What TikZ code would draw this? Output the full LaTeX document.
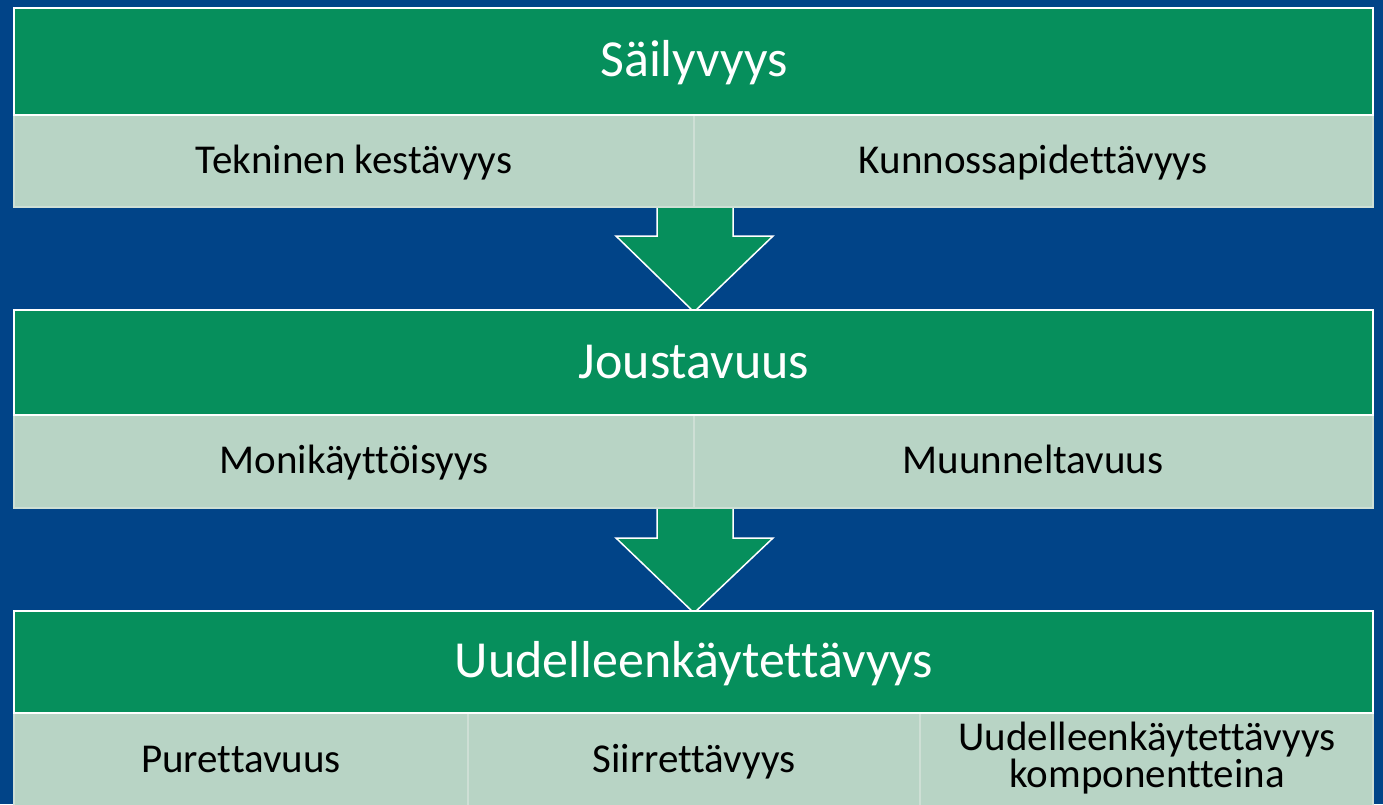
\documentclass[tikz,border=0pt]{standalone}
\usepackage{fontspec}
\setmainfont{Carlito}[Ligatures={NoCommon,NoRare,NoContextual}]
\definecolor{bgblue}{RGB}{1,68,136}
\definecolor{hdrgreen}{RGB}{6,143,92}
\definecolor{sublight}{RGB}{184,212,197}
\definecolor{subline}{RGB}{206,223,213}
\begin{document}
\begin{tikzpicture}[x=1pt,y=-1pt,
  header/.style={fill=hdrgreen,draw=white,line width=1.5pt},
  subcell/.style={fill=sublight,draw=subline,line width=2pt},
  arrowshape/.style={fill=hdrgreen,draw=white,line width=1.5pt,line join=miter},
  htext/.style={font=\fontsize{52}{60}\selectfont,text=white,inner sep=0pt,anchor=base},
  stext/.style={font=\fontsize{41}{35}\selectfont,text=black,inner sep=0pt,anchor=base,align=center}]
\fill[bgblue] (0,0) rectangle (1383,804);
\useasboundingbox (0,0) rectangle (1383,804);
% arrows
\draw[arrowshape] (657,200) -- (733,200) -- (733,236) -- (773,236) -- (694,312) -- (616,236) -- (657,236) -- cycle;
\draw[arrowshape] (657,500) -- (733,500) -- (733,538) -- (773,538) -- (694,613) -- (616,538) -- (657,538) -- cycle;
% block 1
\draw[subcell] (14,115) rectangle (694,207);
\draw[subcell] (694,115) rectangle (1373,207);
\draw[header] (14,8) rectangle (1373,115);
\node[htext] (h1) at (694,76) {Säilyvyys};
\node[stext] (s11) at (354,173) {Tekninen kestävyys};
\node[stext] (s12) at (1033,173) {Kunnossapidettävyys};
% block 2
\draw[subcell] (14,415) rectangle (694,508);
\draw[subcell] (694,415) rectangle (1373,508);
\draw[header] (14,310) rectangle (1373,415);
\node[htext] (h2) at (694,378) {Joustavuus};
\node[stext] (s21) at (354,473) {Monikäyttöisyys};
\node[stext] (s22) at (1033,473) {Muunneltavuus};
% block 3
\draw[subcell] (14,713) rectangle (468,810);
\draw[subcell] (468,713) rectangle (920,810);
\draw[subcell] (920,713) rectangle (1373,810);
\draw[header] (14,611) rectangle (1373,713);
\node[htext] (h3) at (694,677) {Uudelleenkäytettävyys};
\node[stext] (s31) at (241,772) {Purettavuus};
\node[stext] (s32) at (694,772) {Siirrettävyys};
\node[stext] (s33) at (1147,787) {Uudelleenkäytettävyys\\komponentteina};
\end{tikzpicture}
\end{document}
